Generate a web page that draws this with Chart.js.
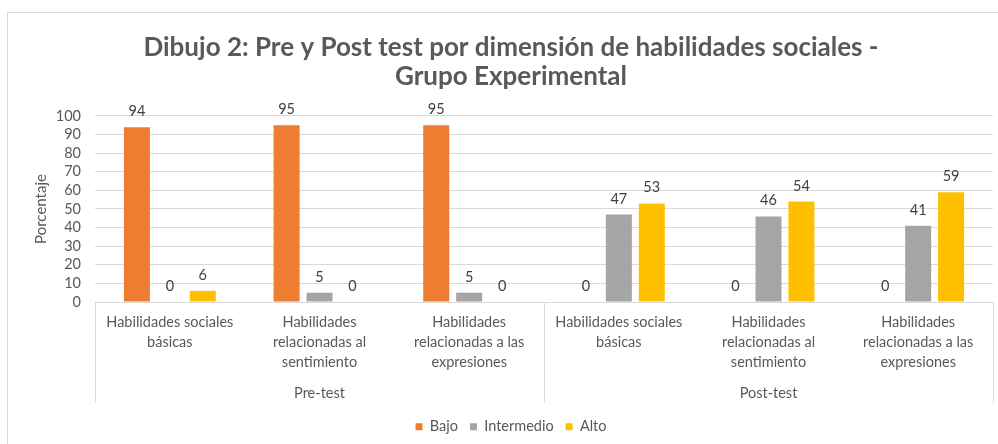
<!DOCTYPE html>
<html>
<head>
<meta charset="utf-8">
<script src="https://cdn.jsdelivr.net/npm/chart.js@4/dist/chart.umd.min.js"></script>
<style>
  html, body { margin: 0; padding: 0; background: #fff; }
  #wrap { width: 998px; height: 444px; }
</style>
</head>
<body>
<div id="wrap"><canvas id="grafico" width="998" height="444"></canvas></div>
<script>
const categorias = [
    ["Habilidades sociales", "básicas"],
    ["Habilidades", "relacionadas al", "sentimiento"],
    ["Habilidades", "relacionadas a las", "expresiones"],
    ["Habilidades sociales", "básicas"],
    ["Habilidades", "relacionadas al", "sentimiento"],
    ["Habilidades", "relacionadas a las", "expresiones"]
];
const grupos = ["Pre-test", "Post-test"];
const porGrupo = 3;
const bajo = [94, 95, 95, 0, 0, 0];
const intermedio = [0, 5, 5, 47, 46, 41];
const alto = [6, 0, 0, 53, 54, 59];
const tituloLineas = ["Dibujo 2: Pre y Post test por dimensión de habilidades sociales -", "Grupo Experimental"];

const fuente = "Lato";
const gris = "#595959";

// marco gris alrededor del grafico
const marco = {
    id: 'marco',
    beforeDraw: (chart) => {
        const {ctx} = chart;
        ctx.save();
        ctx.fillStyle = '#fff';
        ctx.fillRect(0, 0, chart.width, chart.height);
        ctx.strokeStyle = '#d9d9d9';
        ctx.lineWidth = 1;
        ctx.strokeRect(7.5, 12.5, chart.width, chart.height);
        ctx.restore();
    }
};

// etiquetas de valores sobre las barras
const etiquetas = {
    id: 'etiquetas',
    afterDatasetsDraw: (chart) => {
        const {ctx} = chart;
        ctx.save();
        ctx.font = "14.5px " + fuente;
        ctx.fillStyle = "#404040";
        ctx.textAlign = "center";
        ctx.textBaseline = "alphabetic";
        chart.data.datasets.forEach((ds, i) => {
            chart.getDatasetMeta(i).data.forEach((bar, j) => {
                ctx.fillText(String(ds.data[j]), bar.x, bar.y - 11);
            });
        });
        ctx.restore();
    }
};

// segundo nivel del eje x: grupos y separadores
const ejeGrupos = {
    id: 'ejeGrupos',
    afterDraw: (chart) => {
        const {ctx, chartArea} = chart;
        const x = chart.scales.x;
        const bordes = [];
        for (let g = 0; g <= grupos.length; g++) {
            const i = g * porGrupo;
            if (i === 0) bordes.push(chartArea.left);
            else if (i >= categorias.length) bordes.push(chartArea.right);
            else bordes.push((x.getPixelForValue(i - 1) + x.getPixelForValue(i)) / 2);
        }
        ctx.save();
        ctx.strokeStyle = "#d9d9d9";
        ctx.lineWidth = 1;
        bordes.forEach(b => {
            const px = Math.round(b) + 0.5;
            ctx.beginPath();
            ctx.moveTo(px, chartArea.bottom);
            ctx.lineTo(px, chartArea.bottom + 101);
            ctx.stroke();
        });
        ctx.font = "14.5px " + fuente;
        ctx.fillStyle = gris;
        ctx.textAlign = "center";
        ctx.textBaseline = "middle";
        grupos.forEach((g, k) => {
            ctx.fillText(g, (bordes[k] + bordes[k + 1]) / 2, chartArea.bottom + 91);
        });
        ctx.restore();
    }
};

const graph = new Chart("grafico", {
    type: "bar",
    data: {
        labels: categorias,
        datasets: [
            { label: "Bajo", data: bajo, backgroundColor: "#ED7D31" },
            { label: "Intermedio", data: intermedio, backgroundColor: "#A5A5A5" },
            { label: "Alto", data: alto, backgroundColor: "#FFC000" }
        ]
    },
    options: {
        responsive: false,
        animation: false,
        categoryPercentage: 0.66,
        barPercentage: 0.79,
        layout: { padding: { left: 29, right: 5, top: 0, bottom: 0 } },
        plugins: {
            title: {
                display: true,
                text: tituloLineas,
                color: gris,
                font: { family: fuente, size: 26, weight: "bold", lineHeight: 1.115 },
                padding: { top: 33, bottom: 25 }
            },
            legend: {
                position: "bottom",
                maxHeight: 37,
                labels: {
                    boxWidth: 7,
                    boxHeight: 7,
                    padding: 12,
                    color: gris,
                    font: { family: fuente, size: 14.5 }
                }
            },
            tooltip: { enabled: false }
        },
        scales: {
            x: {
                grid: { display: false, drawTicks: false },
                border: { display: false },
                ticks: {
                    color: gris,
                    font: { family: fuente, size: 14.5, lineHeight: 1.35 },
                    padding: 11,
                    maxRotation: 0,
                    autoSkip: false
                },
                afterFit: (scale) => {
                    scale.height = 444 - 302 - scale.chart.legend.height;
                }
            },
            y: {
                min: 0,
                max: 100,
                ticks: {
                    stepSize: 10,
                    autoSkip: false,
                    color: gris,
                    padding: 14,
                    font: { family: fuente, size: 14.5 }
                },
                grid: { color: "#d9d9d9", drawTicks: false },
                border: { display: false },
                title: {
                    display: true,
                    text: "Porcentaje",
                    color: gris,
                    font: { family: fuente, size: 15 },
                    padding: { top: 3, bottom: 0 }
                },
                afterFit: (scale) => {
                    scale.width = 95 - 29;
                }
            }
        }
    },
    plugins: [marco, etiquetas, ejeGrupos]
});
</script>
</body>
</html>
